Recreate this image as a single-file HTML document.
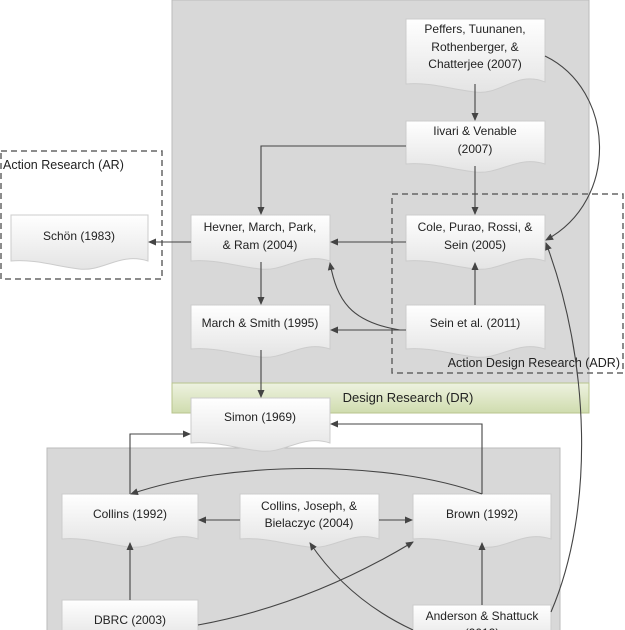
<!DOCTYPE html>
<html><head><meta charset="utf-8"><style>
html,body{margin:0;padding:0;background:#fff;}
svg{display:block;font-family:"Liberation Sans",sans-serif;}
text{font-size:12px;fill:#222;}
</style></head><body>
<svg width="625" height="630" viewBox="0 0 625 630" xmlns="http://www.w3.org/2000/svg">
<defs>
<linearGradient id="g" x1="0" y1="0" x2="0" y2="1"><stop offset="0" stop-color="#ffffff"/><stop offset="1" stop-color="#e4e4e4"/></linearGradient>
<linearGradient id="gr" x1="0" y1="0" x2="0" y2="1"><stop offset="0" stop-color="#eef2e0"/><stop offset="1" stop-color="#cfdcae"/></linearGradient>
<marker id="a" markerWidth="8" markerHeight="8" refX="7" refY="4" orient="auto" markerUnits="userSpaceOnUse"><path d="M0,0.5 L8,4 L0,7.5 Z" fill="#444"/></marker>
</defs>
<!-- DR container -->
<rect x="172" y="0" width="417" height="413" fill="#d8d8d8" stroke="#bbb"/>
<rect x="172" y="383" width="417" height="30" fill="url(#gr)" stroke="#b8c48e"/>
<text x="408" y="402" text-anchor="middle" style="font-size:13px">Design Research (DR)</text>
<!-- bottom container -->
<rect x="47" y="448" width="513" height="190" fill="#d8d8d8" stroke="#bbb"/>
<!-- AR dashed -->
<rect x="1" y="151" width="161" height="128" fill="none" stroke="#666" stroke-width="1.5" stroke-dasharray="6,4"/>
<text x="3" y="169" style="font-size:12.5px">Action Research (AR)</text>
<!-- ADR dashed -->
<rect x="392" y="194" width="231" height="179" fill="none" stroke="#666" stroke-width="1.5" stroke-dasharray="6,4"/>
<text x="620" y="367" text-anchor="end" style="font-size:12.5px">Action Design Research (ADR)</text>

<g fill="url(#g)" stroke="#ccc" stroke-width="1">
<!-- doc shapes: x,y,w,h -->
<path d="M406,19 H545 V82 C517,70 500,96 475,92 C450,89 430,82 406,84 Z"/>
<path d="M406,121 H545 V164 C517,155 500,175 475,172 C450,169 430,162 406,164 Z"/>
<path d="M406,215 H545 V261 C517,252 500,272 475,269 C450,266 430,259 406,261 Z"/>
<path d="M191,215 H330 V261 C302,252 285,272 260,269 C235,266 215,259 191,261 Z"/>
<path d="M11,215 H148 V261 C120,252 103,272 79,269 C55,266 35,259 11,261 Z"/>
<path d="M191,305 H330 V349 C302,340 285,360 260,357 C235,354 215,347 191,349 Z"/>
<path d="M406,305 H545 V349 C517,340 500,360 475,357 C450,354 430,347 406,349 Z"/>
<path d="M191,398 H330 V443 C302,434 285,454 260,451 C235,448 215,441 191,443 Z"/>
<path d="M62,494 H198 V539 C170,530 153,550 129,547 C105,544 85,537 62,539 Z"/>
<path d="M240,494 H379 V539 C351,530 334,550 309,547 C284,544 264,537 240,539 Z"/>
<path d="M413,494 H551 V539 C523,530 506,550 482,547 C458,544 438,537 413,539 Z"/>
<rect x="62" y="600" width="136" height="40"/>
<rect x="413" y="605" width="138" height="40"/>
</g>

<g text-anchor="middle">
<text x="475" y="33">Peffers, Tuunanen,</text>
<text x="475" y="51">Rothenberger, &amp;</text>
<text x="475" y="68">Chatterjee (2007)</text>
<text x="475" y="135">Iivari &amp; Venable</text>
<text x="475" y="153">(2007)</text>
<text x="475" y="231">Cole, Purao, Rossi, &amp;</text>
<text x="475" y="249">Sein (2005)</text>
<text x="260" y="231">Hevner, March, Park,</text>
<text x="260" y="249">&amp; Ram (2004)</text>
<text x="79" y="240">Schön (1983)</text>
<text x="260" y="327">March &amp; Smith (1995)</text>
<text x="475" y="327">Sein et al. (2011)</text>
<text x="260" y="421">Simon (1969)</text>
<text x="130" y="518">Collins (1992)</text>
<text x="309" y="510">Collins, Joseph, &amp;</text>
<text x="309" y="527">Bielaczyc (2004)</text>
<text x="482" y="518">Brown (1992)</text>
<text x="130" y="624">DBRC (2003)</text>
<text x="482" y="620">Anderson &amp; Shattuck</text>
<text x="482" y="637">(2012)</text>
</g>

<g fill="none" stroke="#444" stroke-width="1.1" marker-end="url(#a)">
<path d="M475,84 V120"/>
<path d="M545,56 C615,90 620,200 546,240"/>
<path d="M406,146 H261 V214"/>
<path d="M475,166 V214"/>
<path d="M406,242 H331"/>
<path d="M191,242 H149"/>
<path d="M261,262 V304"/>
<path d="M475,305 V263"/>
<path d="M400,330 C350,322 337,300 330,263"/>
<path d="M406,330 H331"/>
<path d="M261,350 V397"/>
<path d="M551,612 C595,510 590,360 546,243"/>
<path d="M130,494 V434 H190"/>
<path d="M482,494 V424 H331"/>
<path d="M482,494 C390,460 230,460 131,494"/>
<path d="M240,520 H199"/>
<path d="M379,520 H412"/>
<path d="M130,600 V543"/>
<path d="M198,625 C280,610 350,580 413,542"/>
<path d="M482,605 V543"/>
<path d="M413,630 C370,610 335,580 310,543"/>
</g>
</svg>
</body></html>
